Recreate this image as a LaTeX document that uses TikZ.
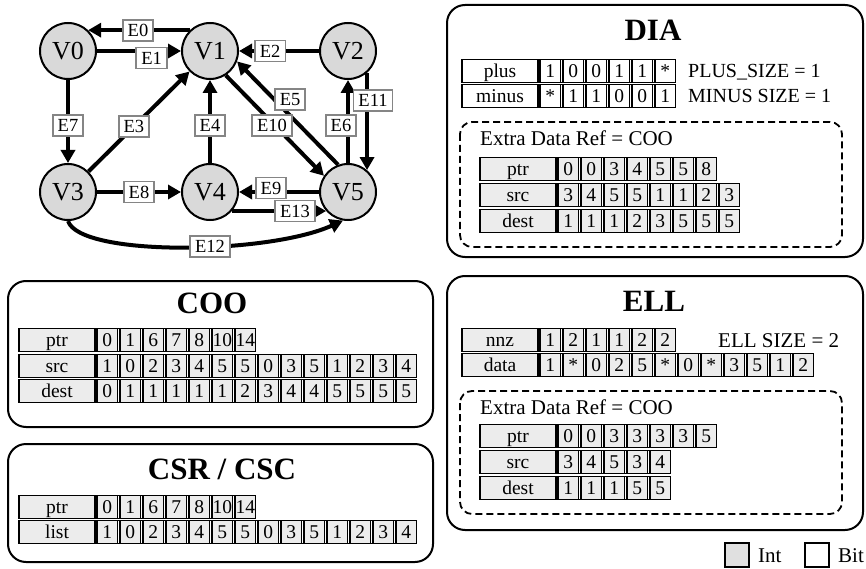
\documentclass[tikz,border=0pt]{standalone}
\usepackage{fontspec}
\setmainfont{Liberation Serif}
\usetikzlibrary{arrows.meta}
\definecolor{cellgray}{gray}{0.925}
\definecolor{nodegray}{gray}{0.85}
\definecolor{labelgray}{gray}{0.52}
\definecolor{legendgray}{gray}{0.88}
\tikzset{
  cell/.style={draw=black, line width=1.4pt, minimum height=23pt, inner sep=0pt, outer sep=0pt, text height=13pt, text depth=0pt, font=\fontsize{19.5}{19.5}\selectfont, anchor=west},
  rowframe/.style={draw=black, line width=1.9pt},
  panel/.style={draw=black, line width=2pt, rounded corners=18pt},
  dashbox/.style={draw=black, line width=1.8pt, dash pattern=on 7pt off 4pt, rounded corners=12pt},
  title/.style={font=\fontsize{31}{31}\selectfont\bfseries, anchor=base, inner sep=0pt},
  note/.style={font=\fontsize{20}{20}\selectfont, anchor=base west, inner sep=0pt},
  vnode/.style={circle, draw=black, line width=2pt, fill=nodegray, minimum size=56pt, inner sep=0pt, font=\fontsize{26}{26}\selectfont},
  elabel/.style={draw=labelgray, line width=1.8pt, fill=white, font=\fontsize{18.5}{18.5}\selectfont, inner xsep=5pt, inner ysep=0pt, minimum height=21pt, text height=12.5pt, text depth=0pt},
  edge/.style={line width=4pt, -{Triangle[length=13pt,width=14pt]}},
  legendbox/.style={draw=black, line width=1.6pt, minimum size=24pt, inner sep=0pt},
}
% #1 name, #2 x, #3 y, #4 label, #5 fill, #6 number of cells, #7 entries
\newcommand\tabrow[7]{%
  \node[cell, fill=#5, minimum width=76pt] (#1-lab) at (#2,#3) {#4};
  \foreach \v [count=\i] in {#7} {
    \node[cell, fill=#5, minimum width=20.5pt] (#1-\i) at ({#2+78+(\i-1)*23},#3) {\v};
  }
  \draw[rowframe] (#1-lab.north west) rectangle (#1-#6.south east);
}
\begin{document}
\begin{tikzpicture}[x=1pt,y=-1pt]
\useasboundingbox (0,0) rectangle (866,569);

% ---------------- graph ----------------
\node[vnode] (V0) at (68,51) {V0};
\node[vnode] (V1) at (210,51) {V1};
\node[vnode] (V2) at (348,51) {V2};
\node[vnode] (V3) at (68,192) {V3};
\node[vnode] (V4) at (210,192) {V4};
\node[vnode] (V5) at (348,192) {V5};

\draw[edge] (V1.134) -- node[elabel,pos=0.51] (e0) {E0} (V0.46);
\draw[edge] (V0.0) -- node[elabel,pos=0.65,yshift=-7pt] (e1) {E1} (V1.180);
\draw[edge] (V2.180) -- node[elabel,pos=0.61] (e2) {E2} (V1.0);
\draw[edge] (V3.45) -- node[elabel,pos=0.45] (e3) {E3} (V1.225);
\draw[edge] (V4.90) -- node[elabel,pos=0.45] (e4) {E4} (V1.270);
\draw[edge] (V5.110) -- node[elabel,pos=0.485,yshift=15pt,xshift=1pt] (e5) {E5} (V1.339);
\draw[edge] (V5.90) -- node[elabel,pos=0.45,xshift=-7pt] (e6) {E6} (V2.270);
\draw[edge] (V0.270) -- node[elabel,pos=0.55] (e7) {E7} (V3.90);
\draw[edge] (V3.0) -- node[elabel,pos=0.5] (e8) {E8} (V4.180);
\draw[edge] (V5.180) -- node[elabel,pos=0.6,yshift=4pt] (e9) {E9} (V4.0);
\draw[edge] (V1.303) -- node[elabel,pos=0.47,yshift=-3pt] (e10) {E10} (V5.146);
\draw[edge] (V2.311) -- node[elabel,pos=0.28,xshift=6pt] (e11) {E11} (V5.49);
\draw[edge] (V3.270) .. controls +(12,36) and +(-75,34) .. node[elabel,pos=0.58] (e12) {E12} (V5.260);
\draw[edge] (V4.319) -- node[elabel,pos=0.67] (e13) {E13} (V5.221);

% ---------------- DIA ----------------
\draw[panel] (447,5) rectangle (863,257);
\node[title] (diatitle) at (653,41) {DIA};
\tabrow{plus}{462}{71}{plus}{white}{6}{1,0,0,1,1,*}
\tabrow{minus}{462}{96}{minus}{white}{6}{*,1,1,0,0,1}
\node[note] (plussize) at (688,78) {PLUS\_SIZE = 1};
\node[note] (minussize) at (688,103) {MINUS SIZE = 1};
\draw[dashbox] (460,122) rectangle (842,247);
\node[note, font=\fontsize{21}{21}\selectfont] (diaextra) at (480,146) {Extra Data Ref = COO};
\tabrow{dptr}{480}{169}{ptr}{cellgray}{7}{0,0,3,4,5,5,8}
\tabrow{dsrc}{480}{195}{src}{cellgray}{8}{3,4,5,5,1,1,2,3}
\tabrow{ddest}{480}{221}{dest}{cellgray}{8}{1,1,1,2,3,5,5,5}

% ---------------- COO ----------------
\draw[panel] (8,281) rectangle (433,427);
\node[title] (cootitle) at (212,313) {COO};
\tabrow{cptr}{19}{340}{ptr}{cellgray}{7}{0,1,6,7,8,10,14}
\tabrow{csrc}{19}{366}{src}{cellgray}{14}{1,0,2,3,4,5,5,0,3,5,1,2,3,4}
\tabrow{cdest}{19}{391}{dest}{cellgray}{14}{0,1,1,1,1,1,2,3,4,4,5,5,5,5}

% ---------------- CSR / CSC ----------------
\draw[panel] (8,444) rectangle (433,562);
\node[title] (csrtitle) at (222,479) {CSR / CSC};
\tabrow{sptr}{19}{507}{ptr}{cellgray}{7}{0,1,6,7,8,10,14}
\tabrow{slist}{19}{532}{list}{cellgray}{14}{1,0,2,3,4,5,5,0,3,5,1,2,3,4}

% ---------------- ELL ----------------
\draw[panel] (447,276) rectangle (863,530);
\node[title] (elltitle) at (654,311) {ELL};
\tabrow{nnz}{462}{340}{nnz}{cellgray}{6}{1,2,1,1,2,2}
\tabrow{data}{462}{365}{data}{cellgray}{12}{1,*,0,2,5,*,0,*,3,5,1,2}
\node[note, font=\fontsize{21}{21}\selectfont] (ellsize) at (718,347) {ELL SIZE = 2};
\draw[dashbox] (460,391) rectangle (842,514);
\node[note, font=\fontsize{21}{21}\selectfont] (ellextra) at (480,414) {Extra Data Ref = COO};
\tabrow{eptr}{480}{436}{ptr}{cellgray}{7}{0,0,3,3,3,3,5}
\tabrow{esrc}{480}{462}{src}{cellgray}{5}{3,4,5,3,4}
\tabrow{edest}{480}{488}{dest}{cellgray}{5}{1,1,1,5,5}

% ---------------- legend ----------------
\node[legendbox, fill=legendgray] (intbox) at (737,555) {};
\node[note, font=\fontsize{21}{21}\selectfont] (intlab) at (758,562) {Int};
\node[legendbox, fill=white] (bitbox) at (817,555) {};
\node[note, font=\fontsize{21}{21}\selectfont] (bitlab) at (838,562) {Bit};
\end{tikzpicture}
\end{document}
